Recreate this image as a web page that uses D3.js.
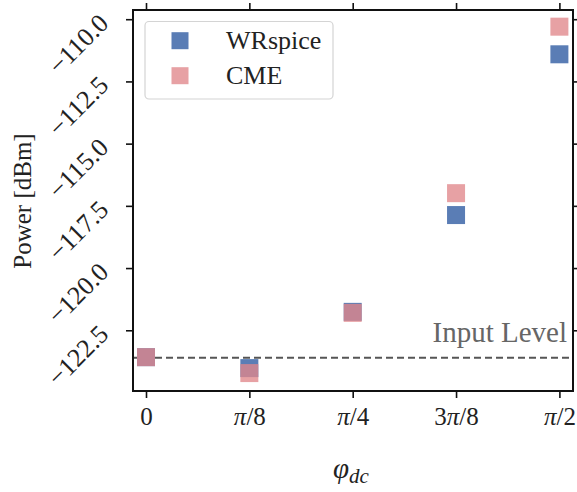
<!DOCTYPE html>
<html><head><meta charset="utf-8">
<script src="https://cdn.jsdelivr.net/npm/d3@7"></script>
<style>body{margin:0;background:#fff}svg{display:block}text{font-family:"Liberation Serif","DejaVu Serif",serif}</style>
</head><body><div id="c"></div>
<script>
const xTickValues = [0, Math.PI/8, Math.PI/4, 3*Math.PI/8, Math.PI/2];
const xTickLabels = ["0", "π/8", "π/4", "3π/8", "π/2"];
const yTickValues = [-110.0, -112.5, -115.0, -117.5, -120.0, -122.5];
const phase = [0, Math.PI/8, Math.PI/4, 3*Math.PI/8, Math.PI/2];
const wrspice = [-123.58, -124.02, -121.76, -117.87, -111.41];
const cme = [-123.58, -124.22, -121.80, -116.99, -110.30];
const inputLevel = -123.6;
const seriesNames = ["WRspice", "CME"];

const W = 577, H = 492;
const L = 133, R = 573, T = 10, B = 391;
const svg = d3.select("#c").append("svg").attr("width", W).attr("height", H);

const x = d3.scaleLinear().domain([-0.0494, Math.PI/2 + 0.0517]).range([L, R]);
const y = d3.scaleLinear().domain([-124.94, -109.63]).range([B, T]);

const fmtMinus = v => "\u2212" + Math.abs(v).toFixed(1);

// input level line
svg.append("line").attr("x1", L).attr("x2", R)
  .attr("y1", y(inputLevel)).attr("y2", y(inputLevel))
  .attr("stroke", "#555").attr("stroke-width", 2).attr("stroke-dasharray", "7,4");
svg.append("text").attr("x", 567).attr("y", 342).attr("text-anchor", "end")
  .attr("fill", "#666").attr("font-size", 29).text("Input Level");

// markers
const S = 18;
const colors = ["#5a7db5", "#e0868b"];
const opac = [1, 0.78];
[wrspice, cme].forEach((arr, si) => {
  svg.append("g").selectAll("rect").data(arr).join("rect")
    .attr("x", (d, i) => x(phase[i]) - S/2).attr("y", d => y(d) - S/2)
    .attr("width", S).attr("height", S)
    .attr("fill", colors[si]).attr("fill-opacity", opac[si]);
});

// axes
const axB = svg.append("g").attr("transform", `translate(0,${B})`)
  .call(d3.axisBottom(x).tickValues(xTickValues).tickFormat((d, i) => xTickLabels[i]).tickSize(7).tickPadding(8));
const axT = svg.append("g").attr("transform", `translate(0,${T})`)
  .call(d3.axisTop(x).tickValues(xTickValues).tickFormat("").tickSize(7));
const axL = svg.append("g").attr("transform", `translate(${L},0)`)
  .call(d3.axisLeft(y).tickValues(yTickValues).tickFormat(fmtMinus).tickSize(7));
const axR = svg.append("g").attr("transform", `translate(${R},0)`)
  .call(d3.axisRight(y).tickValues(yTickValues).tickFormat("").tickSize(7));
[axB, axT, axL, axR].forEach(g => {
  g.select(".domain").remove();
  g.selectAll(".tick line").attr("stroke", "#111").attr("stroke-width", 1.6);
});
axB.selectAll("text").attr("font-size", 25).attr("fill", "#222")
  .attr("font-family", "Liberation Serif, serif").attr("dy", null).attr("y", 34)
  .each(function(d, i) {
    const t = d3.select(this); const s = xTickLabels[i]; t.text("");
    s.split(/(π)/).forEach(part => {
      if (!part) return;
      const sp = t.append("tspan").text(part);
      if (part === "π") sp.attr("font-style", "italic");
    });
  });
axL.selectAll("text").attr("font-size", 26).attr("fill", "#222")
  .attr("text-anchor", "end").attr("dy", null).attr("x", null)
  .attr("transform", "translate(-23,5) rotate(-45)");

svg.append("rect").attr("x", L).attr("y", T).attr("width", R - L).attr("height", B - T)
  .attr("fill", "none").attr("stroke", "#111").attr("stroke-width", 2);

// legend
const lg = svg.append("g");
lg.append("rect").attr("x", 145).attr("y", 21.5).attr("width", 188).attr("height", 77.5)
  .attr("rx", 4).attr("fill", "#fff").attr("fill-opacity", 0.8)
  .attr("stroke", "#d4d4d4").attr("stroke-width", 1.2);
seriesNames.forEach((n, i) => {
  const cy = 40.7 + i * 35;
  lg.append("rect").attr("x", 180 - 8.5).attr("y", cy - 8.5).attr("width", 17).attr("height", 17)
    .attr("fill", colors[i]).attr("fill-opacity", opac[i]);
  lg.append("text").attr("x", 226).attr("y", cy + 8.6).attr("font-size", 26).attr("fill", "#222").text(n);
});

// axis labels
svg.append("text").attr("transform", "translate(31,201) rotate(-90)").attr("text-anchor", "middle")
  .attr("font-size", 25).attr("fill", "#222").text("Power [dBm]");
const xl = svg.append("text").attr("x", 333).attr("y", 478).attr("text-anchor", "start")
  .attr("font-size", 29).attr("fill", "#222").attr("font-style", "italic");
xl.append("tspan").text("φ");
xl.append("tspan").attr("font-size", 21).attr("dy", 5).text("dc");
</script></body></html>
